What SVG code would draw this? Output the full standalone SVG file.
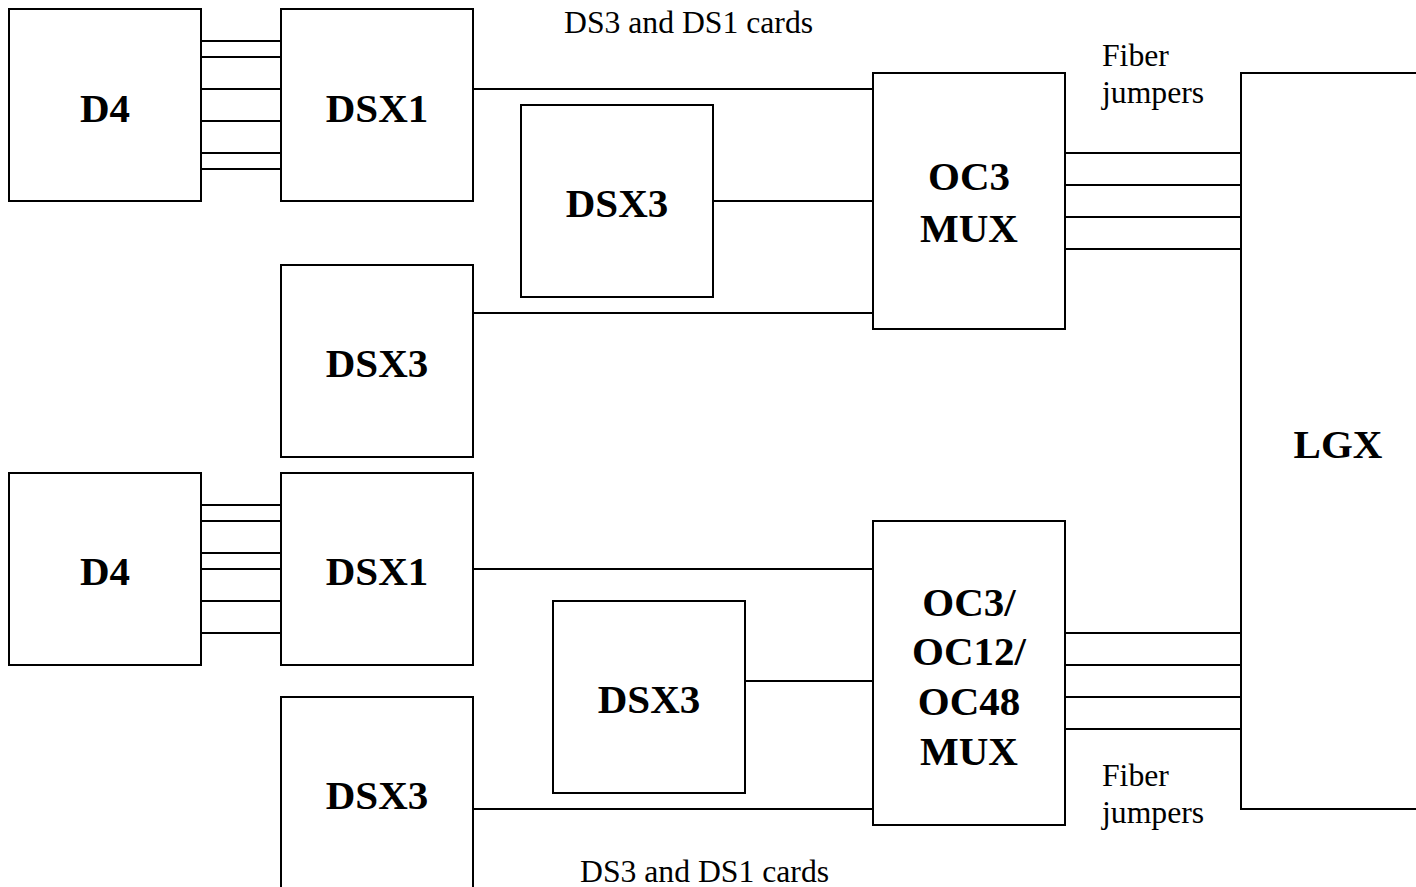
<svg xmlns="http://www.w3.org/2000/svg" width="1416" height="887" viewBox="0 0 1416 887">
<style>
.box{fill:#fff;stroke:#000;stroke-width:2}
.ln{stroke:#000;stroke-width:2;fill:none}
.lb{font-family:"Liberation Serif","Times New Roman",serif;font-weight:bold;font-size:41px;text-anchor:middle;fill:#000}
.tx{font-family:"Liberation Serif","Times New Roman",serif;font-size:31.7px;fill:#000}
</style>
<rect width="1416" height="887" fill="#fff"/>
<g id="connectors">
<path class="ln" d="M201 41H281M201 57H281M201 89H281M201 121H281M201 153H281M201 169H281"/>
<path class="ln" d="M201 505H281M201 521H281M201 553H281M201 569H281M201 601H281M201 633H281"/>
<path class="ln" d="M473 89H873M713 201H873M473 313H873"/>
<path class="ln" d="M473 569H873M745 681H873M473 809H873"/>
<path class="ln" d="M1065 153H1241M1065 185H1241M1065 217H1241M1065 249H1241"/>
<path class="ln" d="M1065 633H1241M1065 665H1241M1065 697H1241M1065 729H1241"/>
</g>
<g id="d4-top"><rect class="box" x="9" y="9" width="192" height="192"/><text class="lb" x="105" y="122">D4</text></g>
<g id="dsx1-top"><rect class="box" x="281" y="9" width="192" height="192"/><text class="lb" x="377" y="122">DSX1</text></g>
<g id="dsx3-mid-top"><rect class="box" x="521" y="105" width="192" height="192"/><text class="lb" x="617" y="217">DSX3</text></g>
<g id="dsx3-left-top"><rect class="box" x="281" y="265" width="192" height="192"/><text class="lb" x="377" y="377">DSX3</text></g>
<g id="oc3-mux"><rect class="box" x="873" y="73" width="192" height="256"/><text class="lb" x="969" y="190">OC3</text><text class="lb" x="969" y="242">MUX</text></g>
<g id="lgx"><rect class="box" x="1241" y="73" width="190" height="736"/><text class="lb" x="1338" y="458">LGX</text></g>
<g id="d4-bottom"><rect class="box" x="9" y="473" width="192" height="192"/><text class="lb" x="105" y="585">D4</text></g>
<g id="dsx1-bottom"><rect class="box" x="281" y="473" width="192" height="192"/><text class="lb" x="377" y="585">DSX1</text><line class="ln" x1="361" y1="665" x2="441" y2="665"/></g>
<g id="dsx3-mid-bottom"><rect class="box" x="553" y="601" width="192" height="192"/><text class="lb" x="649" y="713">DSX3</text></g>
<g id="dsx3-left-bottom"><rect class="box" x="281" y="697" width="192" height="210"/><text class="lb" x="377" y="809">DSX3</text></g>
<g id="oc48-mux"><rect class="box" x="873" y="521" width="192" height="304"/><text class="lb" x="969" y="616">OC3/</text><text class="lb" x="969" y="665">OC12/</text><text class="lb" x="969" y="715">OC48</text><text class="lb" x="969" y="765">MUX</text></g>
<g id="labels">
<text class="tx" x="564" y="33">DS3 and DS1 cards</text>
<text class="tx" x="580" y="882">DS3 and DS1 cards</text>
<text class="tx" x="1102" y="66">Fiber</text>
<text class="tx" x="1102" y="103">jumpers</text>
<text class="tx" x="1102" y="786">Fiber</text>
<text class="tx" x="1102" y="823">jumpers</text>
</g>
</svg>
